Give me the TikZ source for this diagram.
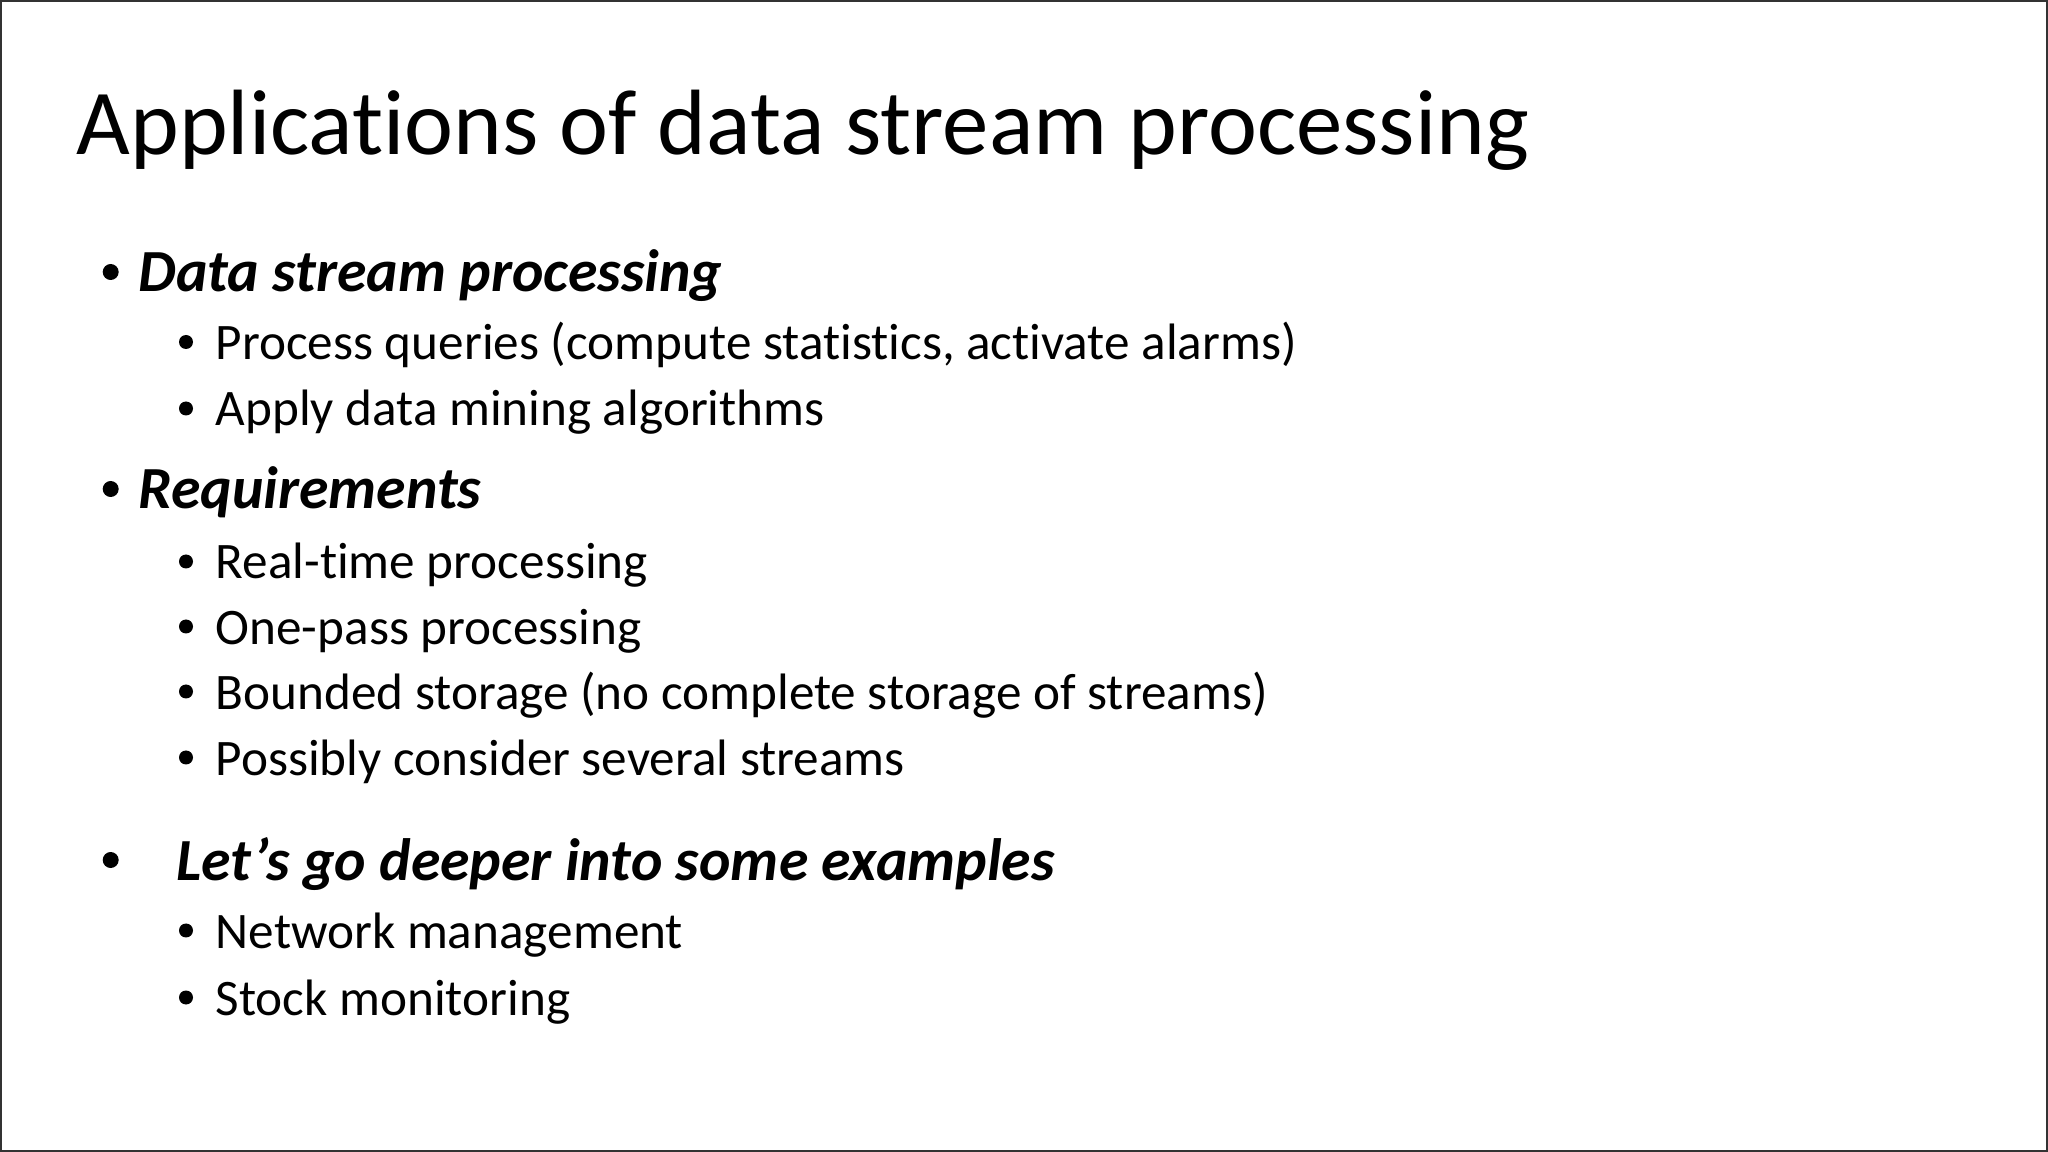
\documentclass[tikz,border=0pt]{standalone}
\usepackage{fontspec}
\setmainfont{Carlito}[Ligatures=NoCommon]
\usetikzlibrary{positioning}

\begin{document}
\begin{tikzpicture}[scale=1.0,
    slidetitle/.style={anchor=base west, inner sep=0pt, font=\fontsize{26.4}{32}\selectfont},
    headline/.style={anchor=base west, inner sep=0pt, font=\fontsize{17}{20}\selectfont\bfseries\itshape},
    subline/.style={anchor=base west, inner sep=0pt, font=\fontsize{14.57}{17}\selectfont},
    bigdot/.style={circle, fill=black, inner sep=0pt, minimum size=0.16cm},
    smalldot/.style={circle, fill=black, inner sep=0pt, minimum size=0.14cm}]
    \useasboundingbox (0,0) rectangle (20.48,-11.52);
    \draw[line width=0.8pt, black!80] (0.01,-0.01) rectangle (20.47,-11.51);
    \node[slidetitle] (title) at (0.76,-1.55) {Applications of data stream processing};
    % first block
    \node[bigdot] (d1) at (1.107,-2.72) {};
    \node[headline] (h1) at (1.38,-2.92) {Data stream processing};
    \node[smalldot] (d11) at (1.86,-3.42) {};
    \node[subline] (s11) at (2.15,-3.595) {Process queries (compute statistics, activate alarms)};
    \node[smalldot] (d12) at (1.86,-4.085) {};
    \node[subline] (s12) at (2.15,-4.26) {Apply data mining algorithms};
    % second block
    \node[bigdot] (d2) at (1.107,-4.89) {};
    \node[headline] (h2) at (1.38,-5.09) {Requirements};
    \node[smalldot] (d21) at (1.86,-5.615) {};
    \node[subline] (s21) at (2.15,-5.79) {Real-time processing};
    \node[smalldot] (d22) at (1.86,-6.265) {};
    \node[subline] (s22) at (2.15,-6.44) {One-pass processing};
    \node[smalldot] (d23) at (1.86,-6.915) {};
    \node[subline] (s23) at (2.15,-7.09) {Bounded storage (no complete storage of streams)};
    \node[smalldot] (d24) at (1.86,-7.575) {};
    \node[subline] (s24) at (2.15,-7.75) {Possibly consider several streams};
    % third block
    \node[bigdot] (d3) at (1.107,-8.60) {};
    \node[headline] (h3) at (1.76,-8.80) {Let’s go deeper into some examples};
    \node[smalldot] (d31) at (1.86,-9.305) {};
    \node[subline] (s31) at (2.15,-9.48) {Network management};
    \node[smalldot] (d32) at (1.86,-9.975) {};
    \node[subline] (s32) at (2.15,-10.15) {Stock monitoring};
\end{tikzpicture}
\end{document}
